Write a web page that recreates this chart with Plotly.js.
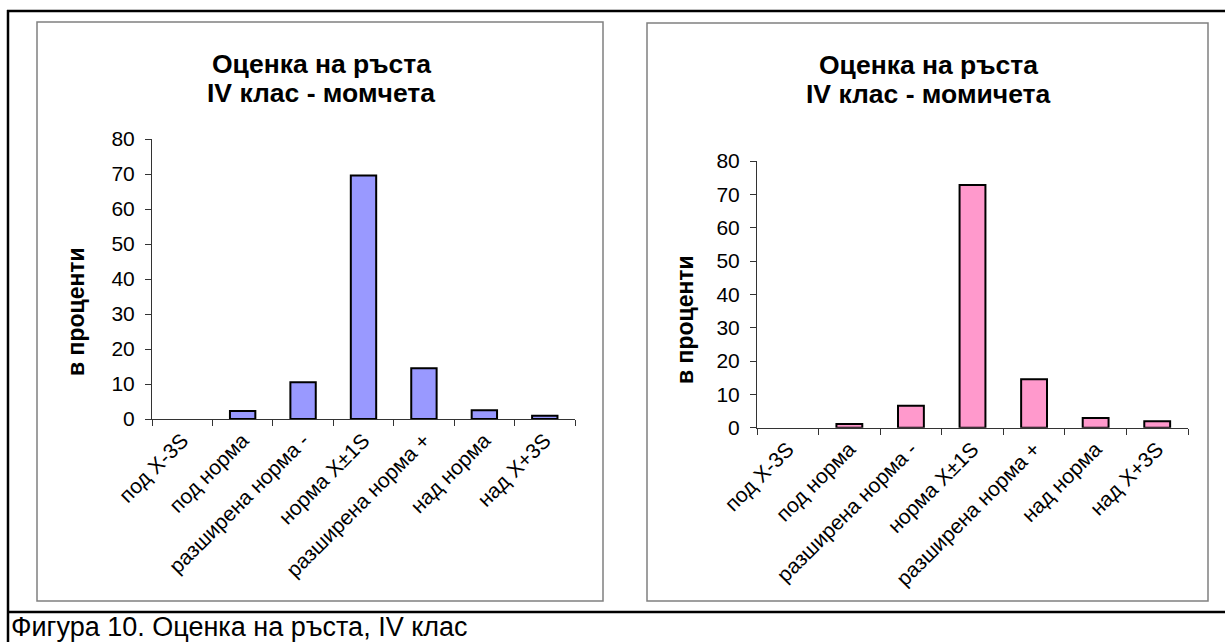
<!DOCTYPE html>
<html>
<head>
<meta charset="utf-8">
<script src="https://cdn.plot.ly/plotly-3.0.1.min.js"></script>
<style>
html,body{margin:0;padding:0;background:#fff;}
#chart{width:1225px;height:642px;}
</style>
</head>
<body>
<div id="chart"></div>
<script>
const categories = ['под X-3S', 'под норма', 'разширена норма -', 'норма X±1S', 'разширена норма +', 'над норма', 'над X+3S'];
const boys = [0, 2.3, 10.5, 69.6, 14.5, 2.5, 0.9];
const girls = [0, 1.1, 6.6, 72.8, 14.5, 2.9, 1.9];
const yTicks = [0, 10, 20, 30, 40, 50, 60, 70, 80];
const gridTicks = [10, 20, 30, 40, 50, 60, 70];
const titleLine1 = 'Оценка на ръста';
const titleBoys = 'IV клас - момчета';
const titleGirls = 'IV клас - момичета';
const yTitle = 'в проценти';
const caption = 'Фигура 10. Оценка на ръста, IV клас';

const W = 1225, H = 642;
const px = v => v / W;
const py = v => 1 - v / H;
const FONT = 'Arial, "Liberation Sans", sans-serif';

function barTrace(vals, color, xa, ya) {
  return {type: 'bar', x: categories, y: vals, xaxis: xa, yaxis: ya, width: 0.42,
    marker: {color: color, line: {color: '#000', width: vals.map(v => v > 0 ? 2 : 0)}},
    hoverinfo: 'x+y'};
}
const traces = [
  barTrace(boys, '#9999FF', 'x', 'y'),
  barTrace(girls, '#FF99CC', 'x2', 'y2')
];

function xAxis(domain, anchor) {
  return {domain: domain, anchor: anchor, type: 'category', tickson: 'boundaries',
    ticks: 'outside', ticklen: 6, tickcolor: '#333', tickwidth: 1,
    showline: true, linecolor: '#333', linewidth: 1, showgrid: false,
    tickangle: -45, tickfont: {family: FONT, size: 21, color: '#000'},
    range: [-0.5, 6.5], fixedrange: true, automargin: false};
}
function yAxis(domain, anchor) {
  return {domain: domain, anchor: anchor, range: [0, 80], tickvals: yTicks,
    ticks: 'outside', ticklen: 6, tickcolor: '#333', tickwidth: 1,
    showline: true, linecolor: '#333', linewidth: 1, showgrid: false, zeroline: false,
    tickfont: {family: FONT, size: 21, color: '#000'}, ticklabelstandoff: 6,
    fixedrange: true, automargin: false};
}
function gridAxis(domain, anchor, over) {
  return {domain: domain, anchor: anchor, overlaying: over, range: [0, 80], tickvals: gridTicks,
    showticklabels: false, ticks: '', showline: false, showgrid: true, gridcolor: '#808080',
    gridwidth: 1, zeroline: false, fixedrange: true, automargin: false};
}

const lx = [px(152), px(575)];
const ly = [py(419), py(139)];
const rx = [px(757), px(1188)];
const ry = [py(427.7), py(161)];

const layout = {
  width: W, height: H,
  margin: {l: 0, r: 0, t: 0, b: 0},
  paper_bgcolor: '#fff', plot_bgcolor: 'rgba(0,0,0,0)',
  showlegend: false,
  xaxis: xAxis(lx, 'y'),
  yaxis: yAxis(ly, 'x'),
  xaxis2: xAxis(rx, 'y2'),
  yaxis2: yAxis(ry, 'x2'),
  yaxis3: gridAxis(ly, 'x', 'y'),
  yaxis4: gridAxis(ry, 'x2', 'y2'),
  shapes: [
    {type: 'line', xref: 'paper', yref: 'paper', x0: px(8), x1: px(8), y0: py(10), y1: py(642), line: {color: '#000', width: 2.5}},
    {type: 'line', xref: 'paper', yref: 'paper', x0: px(7), x1: 1, y0: py(11), y1: py(11), line: {color: '#000', width: 2.5}},
    {type: 'line', xref: 'paper', yref: 'paper', x0: px(7), x1: 1, y0: py(612), y1: py(612), line: {color: '#000', width: 2.5}},
    {type: 'rect', xref: 'paper', yref: 'paper', x0: px(37), x1: px(603), y0: py(601), y1: py(22), line: {color: '#808080', width: 1.5}, layer: 'below'},
    {type: 'rect', xref: 'paper', yref: 'paper', x0: px(647), x1: px(1208), y0: py(601), y1: py(23), line: {color: '#808080', width: 1.5}, layer: 'below'}
  ],
  annotations: [
    {xref: 'paper', yref: 'paper', x: px(321), y: py(63.5), text: '<b>' + titleLine1 + '</b>', showarrow: false, xanchor: 'center', yanchor: 'middle', font: {family: FONT, size: 26.5, color: '#000'}},
    {xref: 'paper', yref: 'paper', x: px(321), y: py(93.5), text: '<b>' + titleBoys + '</b>', showarrow: false, xanchor: 'center', yanchor: 'middle', font: {family: FONT, size: 26.5, color: '#000'}},
    {xref: 'paper', yref: 'paper', x: px(928), y: py(65), text: '<b>' + titleLine1 + '</b>', showarrow: false, xanchor: 'center', yanchor: 'middle', font: {family: FONT, size: 26.5, color: '#000'}},
    {xref: 'paper', yref: 'paper', x: px(928), y: py(94), text: '<b>' + titleGirls + '</b>', showarrow: false, xanchor: 'center', yanchor: 'middle', font: {family: FONT, size: 26.5, color: '#000'}},
    {xref: 'paper', yref: 'paper', x: px(76), y: py(312), text: '<b>' + yTitle + '</b>', showarrow: false, textangle: -90, xanchor: 'center', yanchor: 'middle', font: {family: FONT, size: 23, color: '#000'}},
    {xref: 'paper', yref: 'paper', x: px(685), y: py(320), text: '<b>' + yTitle + '</b>', showarrow: false, textangle: -90, xanchor: 'center', yanchor: 'middle', font: {family: FONT, size: 23, color: '#000'}},
    {xref: 'paper', yref: 'paper', x: px(9), y: py(627), text: caption, showarrow: false, xanchor: 'left', yanchor: 'middle', font: {family: FONT, size: 27, color: '#000'}}
  ]
};

Plotly.newPlot('chart', traces, layout, {displayModeBar: false, staticPlot: true});
</script>
</body>
</html>
